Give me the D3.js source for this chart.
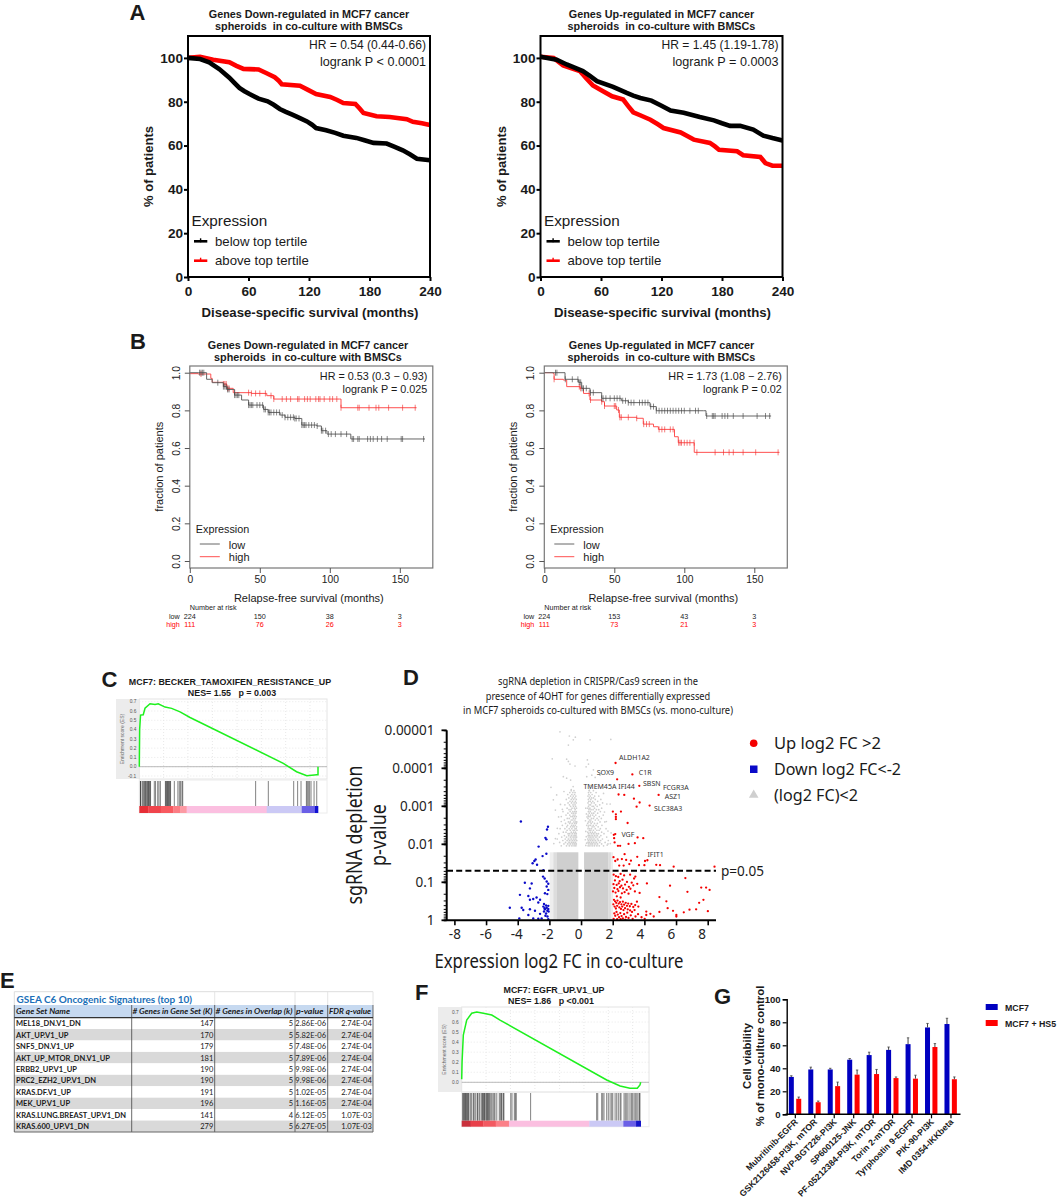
<!DOCTYPE html>
<html><head><meta charset="utf-8">
<script src="https://cdnjs.cloudflare.com/ajax/libs/d3/7.8.5/d3.min.js"></script>
<style>html,body{margin:0;padding:0;background:#fff}svg{display:block}text{font-family:"Liberation Sans",Arial,sans-serif;fill:#1a1a1a;white-space:pre}</style>
</head><body><svg id="c" width="1060" height="1200"></svg>
<script>
// ---------- Panel A : Kaplan-Meier (months, % of patients)
const aLeftLow=[[0,100],[12,99.5],[21,98],[31,94.9],[41,91],[46,88.6],[51,86.3],[56,84.8],[61,83.5],[70,81.4],[79,80.2],[85,78.6],[91,76.7],[97,75.4],[104,74],[111,72.5],[118,71],[123,69.5],[127,68],[137,67],[146,65.8],[154,64.5],[167,63.5],[175,62.4],[184,61.2],[197,60.9],[205,59.4],[213,57.8],[220,56],[227,54],[240,53.3]];
const aLeftHigh=[[0,100],[12,100.5],[25,99.2],[41,98],[48,96.4],[55,95],[70,94.7],[78,93],[86,91.2],[90,89.6],[93,88],[111,87.3],[119,85.4],[127,83.5],[141,82.2],[148,80.8],[154,79.4],[166,79],[170,77],[174,74.9],[187,73.4],[200,73],[217,72],[223,70.8],[232,70.2],[240,69.4]];
const aRightLow=[[0,100.5],[16,99.2],[26,97],[42,94],[49,91.8],[56,89.4],[72,86.8],[85.5,84],[92,82.8],[99,81.7],[110,80.5],[120,78.2],[129,76],[142,75],[158,73],[172,71.5],[180,70.2],[188,69],[198,69],[211,67.3],[221,64.5],[230,63.4],[240,62.3]];
const aRightHigh=[[0,100.5],[13,100],[22.5,96.6],[39,94],[46,90.4],[52,87.4],[62,84.8],[71,82.5],[82,81],[87,78],[92,75.2],[100,73.6],[109,71.8],[116,69.8],[122,68],[139,66],[146,64.2],[152,62.7],[168,61.2],[173,59.6],[177,58.1],[195,57.4],[201,55.6],[218,54.8],[223,52],[230,50.8],[240,50.8]];
const aTicksX=[0,60,120,180,240], aTicksY=[0,20,40,60,80,100];
// ---------- Panel B : Kaplan-Meier (months, fraction)
const bLeftLow=[[0,1],[6,1],[12,.965],[16,.947],[24,.926],[26.4,.911],[32,.881],[37,.855],[42,.828],[52.6,.805],[56,.789],[64.5,.775],[68,.763],[75,.757],[80,.722],[90.7,.717],[94,.692],[98,.674],[113,.674],[115,.648],[168,.648]];
const bLeftHigh=[[0,.995],[6,.993],[15,.97],[16,.949],[24,.94],[26.4,.917],[31,.894],[44,.89],[55,.878],[60,.86],[107,.86],[108,.814],[162,.814]];
const bRightLow=[[0,1],[7.6,1],[14.8,.965],[24.3,.949],[26.7,.917],[32.6,.894],[41,.864],[55,.851],[60,.841],[75.5,.82],[80,.798],[113.6,.798],[115.5,.77],[162,.77]];
const bRightHigh=[[0,1],[6.4,.996],[7,.965],[13.6,.961],[16,.926],[25.5,.917],[28,.89],[32.6,.855],[41,.846],[43,.823],[51.7,.802],[53.6,.763],[66,.758],[70.7,.727],[78,.713],[81.5,.699],[91,.699],[93,.66],[95.7,.628],[107,.628],[107.1,.577],[168,.577]];
const censorBLL=[7,8,9,10,20,24,25,26,27,28,32,33,34,35,42,43,44,45,48,50,52,53,54,56,57,58,60,62,64,66,68,70,72,74,75,76,78,80,81,82,83,85,87,89,91,94,95,97,99,101,104,108,112,116,117,120,121,127,129,131,134,137,141,151,152,167];
const censorBLH=[8,24,25,26,27,28,32,42,44,47,50,54,58,60,66,69,72,77,78,82,84,86,90,92,93,96,100,102,105,108,120,121,128,133,135,142,152,161];
const censorBRL=[8,9,15,20,24,25,26,27,28,30,33,35,41,42,44,47,50,52,54,56,58,60,62,64,68,70,72,74,76,78,80,82,84,86,88,90,92,94,96,98,100,104,108,110,116,120,121,122,127,129,131,135,142,152,158,161];
const censorBRH=[7,25,26,32,33,41,43,50,51,53,54,55,60,66,71,73,75,82,84,86,90,92,96,97,98,100,102,104,107,109,122,128,132,135,142,151,167];
const bTicksX=[0,50,100,150], bTicksY=[0,.2,.4,.6,.8,1];
const riskLeftLow=[224,150,38,3], riskLeftHigh=[111,76,26,3], riskRightLow=[224,153,43,3], riskRightHigh=[111,73,21,3];
// ---------- Panels C and F : enrichment plots (rank %, ES)
const esC=[[0,0],[.2,.4],[.7,.556],[2.2,.56],[3.2,.63],[6,.678],[8.8,.67],[10.6,.678],[14.4,.642],[18.1,.628],[22.8,.59],[28.4,.53],[80.6,.036],[88,-.054],[93.7,-.097],[99.3,-.086],[100,-.086],[100,0]];
const hitsC=[.4,.7,.9,1.9,2.2,2.8,3.2,3.5,4.1,4.5,4.9,5.2,5.6,6,6.3,8.4,9.1,10.3,11,11.8,14.6,14.9,15.3,15.7,16,16.4,16.8,17.2,17.5,19.6,21.6,22.4,23.1,23.9,24.3,65.1,72.2,86.4,88.6,90.5,93.5,94,94.6,95.3,96.1,97.8,99.3];
const esF=[[0,.03],[.2,.2],[.9,.47],[2.8,.62],[5.6,.688],[8.4,.7],[12.1,.687],[16.8,.67],[21.4,.62],[81,.023],[88.5,-.037],[94,-.06],[98.1,-.06],[99.6,-.027],[100,0]];
const hitsF=[.4,.7,1.1,1.5,1.9,2.2,2.6,3,3.4,3.7,4.1,5,5.6,6.5,6.9,7.6,8.6,8.9,9.7,10.2,11.2,11.5,11.9,12.3,12.7,13,13.6,14,14.3,14.7,15.1,15.5,16.2,16.8,17.5,18.1,18.6,19.6,21,21.6,22.2,22.5,23.3,23.6,27.4,28.1,29.4,30,30.5,38.5,75.4,76,78.2,78.8,79.5,81,81.9,82.9,83.8,84.4,85.7,86.6,87.5,88.5,89,90.7,91.4,92.2,92.9,94,94.8,95.5,96.3,97,97.8,98.5,99.3,99.6];
const rankBarC=[[0,5,"#e62e36"],[5,12,"#f0444c"],[12,19,"#f85a60"],[19,23,"#fb7d84"],[23,26.5,"#fc9aa3"],[26.5,71.3,"#fbbfe0"],[71.3,90.9,"#cbc9f5"],[90.9,98.3,"#6a5fe6"],[98.3,100,"#1010d0"]];
const rankBarF=[[0,5,"#c9303c"],[5,12,"#e8404a"],[12,19,"#f25a62"],[19,26.4,"#fb8088"],[26.4,71.3,"#fbbfe0"],[71.3,90.3,"#cbc9f5"],[90.3,97.4,"#6a5fe6"],[97.4,100,"#1414c8"]];
// ---------- Panel D : volcano ([log2 FC, -log10 p])
const volcanoRed=[[2.18,4.14],[3.24,3.84],[2.28,3.71],[3.68,3.54],[2.37,3.31],[2.73,3.3],[3.34,3.2],[3.7,3.1],[4.9,3.3],[3.51,2.99],[4.33,3.02],[2.01,2.86],[2.52,2.86],[2.2,2.79],[2.2,2.72],[2.2,2.66],[2.94,2.56],[2.16,2.27],[2.07,2.25],[2.09,2.16],[3.57,2.18],[3.93,2.16],[3,2.01],[3.4,2.03],[2.12,2.05],[2.33,1.96],[2.47,1.96],[2.75,1.74],[3.55,1.67],[2.05,1.66],[2.31,1.6],[2.58,1.61],[2.85,1.59],[2.16,1.56],[4.04,1.56],[4.19,1.58],[3.15,1.57],[2.41,1.44],[2.69,1.44],[3.05,1.48],[3.66,1.45],[4,1.45],[4.75,1.46],[4.99,1.45],[5.85,1.41],[8.43,1.41],
[6.59,1.11],[5.62,.91],[4.16,.97],[6.72,.75],[4.95,.61],[7.9,.86],[7.59,.86],[8.12,.8],[7.46,.46],[7.73,.54],[8.01,.24],[7.27,.29],[6.85,.28],[6.49,.21],[6.02,.1],[6.02,.14],[5.47,.32],[5.39,.5],[4.95,.22],[4.38,.17],[4.12,.23],[4.12,.14],[4.59,.1],[5.81,.25],[3.53,.49],[3.43,1.15],
[2.06,1.2],[2.2,1.16],[2.35,1.14],[2.5,1.22],[2.72,1.18],[3.1,1.2],[3.35,1.1],[2.14,1.05],[2.44,1.03],[2.62,1.07],[2.9,1.01],[3.2,.99],[2.05,.95],[2.25,.93],[2.38,.97],[2.55,.91],[2.78,.94],[3.02,.88],[3.3,.92],[3.55,.96],[2.1,.85],[2.3,.82],[2.46,.87],[2.65,.84],[2.88,.8],[3.12,.83],[2.02,.76],[2.18,.73],[2.36,.77],[2.58,.71],[2.75,.74],[3,.7],[3.4,.76],[3.7,.72],[2.26,.63],[2.5,.6],[2.08,.54],[2.15,.5],[2.22,.46],[2.3,.52],[2.38,.44],[2.46,.48],[2.55,.42],[2.64,.49],[2.72,.41],[2.82,.46],[2.9,.38],[2.98,.44],[3.08,.37],[3.18,.43],[3.3,.35],[3.42,.4],[3.62,.36],[2.04,.42],[2.12,.36],[2.2,.31],[2.28,.38],[2.42,.34],[2.52,.3],[2.6,.36],[2.68,.27],[2.78,.32],[2.95,.29],[3.1,.26],[3.22,.22],[3.38,.27],[2.1,.18],[2.16,.12],[2.24,.22],[2.32,.15],[2.4,.08],[2.48,.19],[2.56,.11],[2.64,.05],[2.72,.16],[2.84,.09],[2.92,.2],[3,.06],[3.14,.13],[3.26,.04],[3.44,.1],[3.6,.16],[3.82,.08],[4.02,.04],[2.06,.04],[2.28,.03],[2.5,.03],[2.8,.02]];
const volcanoBlue=[[-3.8,2.6],[-2.09,2.46],[-2.15,2.39],[-2.25,2.17],[-2.19,2.13],[-2.68,1.94],[-2.19,1.75],[-2.43,1.69],[-2.87,1.6],[-2.95,1.56],[-3.06,1.5],[-2.78,1.46],[-2.38,1.32],[-2.4,1.15],[-2.3,1.1],[-2.17,1.02],[-2.07,.96],[-2.17,.89],[-2.07,.8],[-2.13,.69],[-2.28,.71],[-3.55,.99],[-3.12,.97],[-3.23,.84],[-3.86,.67],[-3.33,.64],[-4.5,.33],[-3.75,.33],[-3.9,.05],[-3.33,.14],[-3.23,.54],[-3.02,.56],[-2.81,.6],[-2.59,.54],[-2.7,.47],[-2.34,.43],[-2.21,.39],[-2.07,.38],[-2.38,.36],[-2.17,.33],[-2.07,.3],[-2.28,.29],[-2.13,.25],[-2.05,.23],[-2.34,.23],[-2.21,.18],[-2.91,.25],[-3.23,.29],[-2.59,.17],[-3.02,.05],[-2.7,.04],[-2.49,.05],[-2.07,.03],[-3.65,.27],[-2.25,.12],[-2.12,.1],[-2.3,.32]];
const volcanoGreySparse=[[-1.33,4.96],[-.74,4.85],[-.36,4.82],[-.49,4.75],[-.8,4.61],[.57,4.75],[1.88,4.76],[-1.82,4.25],[-.91,4.24],[-.8,4.18],[-.7,4.11],[-.38,4.06],[.4,4.22],[.47,4.11],[.32,4.04],[.78,3.96],[-1.12,3.78],[-.91,3.74],[-.66,3.69],[-1.9,3.5],[-1.54,3.3],[-1.08,3.39],[.36,3.78],[.68,3.82],[.89,3.76],[1.2,3.82],[1.42,3.34],[1.63,3.06],[1.84,3.06],[-1.75,3.17],[-1.3,3.05],[-1.18,2.92],[-1.62,2.9],[-1.42,2.72],[-1.25,2.6],[-1.5,2.42],[-1.62,2.15],[-1.72,2.02],[1.48,2.85],[1.6,2.6],[1.7,2.35],[1.72,2.1],[1.85,2.02],[1.65,1.98],[1.9,2.3],[.52,3.42],[.62,3.55],[-.5,3.52],[-.62,3.44],[.3,2.95],[.34,2.8],[.28,2.62],[.36,2.5],[.3,2.34],[.33,2.2],[.27,2.12],[.35,2.03],[.3,1.97],[.38,2.72]];
const greyRows=[[3.41,[-.62,-.45,.52,.78]],[3.36,[-.71,-.52,-.38,.47,.61,.95]],[3.31,[-.84,-.58,-.41,.5,.7]],[3.27,[-.66,-.49,-.33,.44,.58,.86,1.12]],[3.22,[-.77,-.55,-.39,.53,.67,.79]],[3.18,[-.93,-.62,-.47,-.3,.46,.62,.9,1.25]],[3.13,[-.7,-.54,-.36,.49,.58,.74,1.05]],[3.09,[-.82,-.6,-.44,-.31,.44,.66,.83,1.36]],[3.04,[-1.02,-.73,-.51,-.38,.51,.6,.92,1.18]],[3,[-.66,-.48,-.34,.47,.7,.79,1.02]],[2.95,[-.88,-.57,-.42,-.29,.43,.56,.85,1.3]],[2.91,[-.76,-.63,-.37,.5,.63,.76,.97,1.12]],[2.86,[-1.14,-.69,-.52,-.4,-.3,.46,.58,.88,1.22]],[2.82,[-.83,-.58,-.46,-.33,.52,.68,.8,1.05]],[2.77,[-.95,-.71,-.5,-.38,.45,.6,.74,.93,1.4]],[2.73,[-1.25,-.64,-.54,-.42,-.3,.49,.57,.83,1.15]],[2.68,[-.87,-.75,-.48,-.35,.44,.66,.78,1.01,1.28]],[2.64,[-1.05,-.62,-.52,-.39,.53,.62,.9,1.1]],[2.59,[-.8,-.68,-.45,-.33,-.27,.47,.58,.72,1.2,1.5]],[2.55,[-.98,-.72,-.56,-.41,-.3,.42,.64,.85,1.03]],[2.5,[-1.18,-.85,-.6,-.48,-.36,.5,.6,.77,.95,1.32]],[2.46,[-.9,-.66,-.52,-.43,-.28,.46,.7,.82,1.08]],[2.41,[-1.32,-1.02,-.75,-.58,-.38,-.31,.44,.55,.66,.9,1.22,1.58]],[2.37,[-.88,-.68,-.5,-.41,-.26,.52,.62,.78,1,1.14]],[2.32,[-1.12,-.95,-.62,-.47,-.35,.43,.58,.72,.88,1.3]],[2.28,[-1.4,-.82,-.72,-.55,-.4,-.3,.48,.66,.8,.98,1.1,1.45]],[2.23,[-1.05,-.78,-.6,-.44,-.33,.45,.55,.7,.86,1.02,1.25]],[2.19,[-1.22,-.92,-.66,-.5,-.38,-.28,.5,.62,.76,.94,1.16,1.62]],[2.14,[-1.5,-1,-.8,-.62,-.46,-.34,.42,.56,.68,.82,1.05,1.35]],[2.1,[-1.15,-.88,-.72,-.55,-.41,-.27,.47,.6,.74,.9,1.1,1.24]],[2.05,[-1.35,-.98,-.76,-.6,-.48,-.36,.44,.52,.66,.8,.96,1.18,1.52]],[2.01,[-1.08,-.85,-.68,-.52,-.4,-.3,.49,.62,.72,.88,1.04,1.3,1.7]],[1.96,[-1.25,-.92,-.74,-.58,-.44,-.33,.45,.56,.7,.84,1,1.15,1.42]]];
const greyBands=[[-1.55,-.17,0,1.79,1],[.19,1.72,0,1.79,1],[-1.75,-1.55,0,1.79,.7],[-1.98,-1.75,0,1.79,.35],[1.72,1.88,0,1.79,.7],[1.88,2.02,0,1.79,.35],[-.85,-.25,1.95,2.3,.22],[.4,1.1,1.95,2.3,.22]];
const geneLabels=[["ALDH1A2",3.37,4.29],["SOX9",1.54,3.9],["C1R",4.05,3.9],["TMEM45A",1.19,3.53],["IFI44",2.87,3.53],["SBSN",4.47,3.59],["FCGR3A",5.99,3.49],["ASZ1",5.8,3.26],["SLC38A3",5.5,2.95],["VGF",2.96,2.26],["IFIT1",4.71,1.72]];
const dTicksX=[-8,-6,-4,-2,0,2,4,6,8];
// ---------- Panel E : table
const tableHead=["Gene Set Name","# Genes in Gene Set (K)","# Genes in Overlap (k)","p-value","FDR q-value"];
const tableNames=["MEL18_DN.V1_DN","AKT_UP.V1_UP","SNF5_DN.V1_UP","AKT_UP_MTOR_DN.V1_UP","ERBB2_UP.V1_UP","PRC2_EZH2_UP.V1_DN","KRAS.DF.V1_UP","MEK_UP.V1_UP","KRAS.LUNG.BREAST_UP.V1_DN","KRAS.600_UP.V1_DN"];
const tableK=[147,170,179,181,190,190,191,196,141,279];
const tableOverlap=[5,5,5,5,5,5,5,5,4,5];
const tableP=["2.86E-06","5.82E-06","7.48E-06","7.89E-06","9.98E-06","9.98E-06","1.02E-05","1.16E-05","6.12E-05","6.27E-05"];
const tableQ=["2.74E-04","2.74E-04","2.74E-04","2.74E-04","2.74E-04","2.74E-04","2.74E-04","2.74E-04","1.07E-03","1.07E-03"];
// ---------- Panel G : bars
const drugs=["Mubritinib-EGFR","GSK2126458-PI3K, mTOR","NVP-BGT226-PI3K","SP600125-JNK","PF-05212384-PI3K, mTOR","Torin 2-mTOR","Tyrphostin 9-EGFR","PIK-90-PI3K","IMD 0354-IKKbeta"];
const viabMCF7=[32.5,39,39,47.5,51.5,56,61,75.5,78.5];
const errMCF7=[1,2,1,1,2.5,2.5,5.5,3.5,5];
const viabHS5=[13.5,10.5,24.5,34.5,35,31.5,31,58.5,30.5];
const errHS5=[1.5,1,3.5,4,4,1,3,3,2];

const svg=d3.select("#c");
const RED="#ff0000";
function txt(g,s,x,y,o={}){const t=g.append("text").attr("x",x).attr("y",y).text(s);
  t.attr("font-size",o.size||10).attr("font-weight",o.bold?"bold":"normal").attr("text-anchor",o.anchor||"start");
  if(o.fill)t.style("fill",o.fill); if(o.family)t.style("font-family",o.family); if(o.italic)t.attr("font-style","italic");
  if(o.rot!==undefined)t.attr("transform",`rotate(${o.rot} ${x} ${y})`);
  if(o.len)t.attr("textLength",o.len).attr("lengthAdjust","spacingAndGlyphs");
  return t;}
// panel letters
[["A",129.5,20],["B",130,348.5],["C",101.5,687],["D",403,685],["E",0,988],["F",415,1000],["G",714,1004]].forEach(d=>txt(svg,d[0],d[1],d[2],{size:22,bold:true}));

// ===== Panel A
function panelA(left,title,low,high,hr,p){
  const right=left+242,top=36,bottom=277,g=svg.append("g");
  const x=d3.scaleLinear().domain([0,240]).range([left,right]);
  const y=d3.scaleLinear().domain([0,110]).range([bottom,top]);
  const line=d3.line().x(d=>x(d[0])).y(d=>y(d[1]));
  [[high,RED],[low,"#000"]].forEach(s=>g.append("path").attr("d",line(s[0])).attr("fill","none").attr("stroke",s[1]).attr("stroke-width",4.6));
  g.append("rect").attr("x",left).attr("y",top).attr("width",right-left).attr("height",bottom-top).attr("fill","none").attr("stroke","#000").attr("stroke-width",2);
  const ax=g.append("g").attr("transform",`translate(0,${bottom})`).call(d3.axisBottom(x).tickValues(aTicksX).tickSize(4).tickPadding(5));
  const ay=g.append("g").attr("transform",`translate(${left},0)`).call(d3.axisLeft(y).tickValues(aTicksY).tickSize(4).tickPadding(1));
  [ax,ay].forEach(a=>{a.select(".domain").remove();a.selectAll("line").attr("stroke","#000").attr("stroke-width",2);
    a.selectAll("text").style("font-size","13.6px").style("font-weight","bold").style("font-family","Liberation Sans");});
  const cx=(left+right)/2+1;
  txt(g,title[0],cx-1,18,{size:10.8,bold:true,anchor:"middle"});
  txt(g,title[1],cx-1,30,{size:10.8,bold:true,anchor:"middle"});
  txt(g,"Disease-specific survival (months)",cx,316.5,{size:13.2,bold:true,anchor:"middle"});
  txt(g,"% of patients",left-40,166.5,{size:13,bold:true,anchor:"middle",rot:-90}).attr("dy",5);
  txt(g,hr,right-4,49.3,{size:12.8,anchor:"end",len:117});
  txt(g,p,right-4,66,{size:12.8,anchor:"end",len:106});
  txt(g,"Expression",left+3.5,226,{size:15.3});
  [["below top tertile","#000",241.3,246],["above top tertile",RED,260.7,265.3]].forEach(r=>{
    g.append("line").attr("x1",left+6).attr("x2",left+19.3).attr("y1",r[2]).attr("y2",r[2]).attr("stroke",r[1]).attr("stroke-width",2.6);
    g.append("line").attr("x1",left+12.6).attr("x2",left+12.6).attr("y1",r[2]-3).attr("y2",r[2]+1).attr("stroke",r[1]).attr("stroke-width",1.4);
    txt(g,r[0],left+27,r[3],{size:13.2});
  });
}
const titleDown=["Genes Down-regulated in MCF7 cancer","spheroids  in co-culture with BMSCs"];
const titleUp=["Genes Up-regulated in MCF7 cancer","spheroids  in co-culture with BMSCs"];
panelA(188,titleDown,aLeftLow,aLeftHigh,"HR = 0.54 (0.44-0.66)","logrank P < 0.0001");
panelA(540.5,titleUp,aRightLow,aRightHigh,"HR = 1.45 (1.19-1.78)","logrank P = 0.0003");

// ===== Panel B
function panelB(left,titleX,title,low,high,cLow,cHigh,hr,p,rLow,rHigh){
  const W=243,right=left+W,top=366,bottom=568,g=svg.append("g");
  const x=d3.scaleLinear().domain([0,W/1.4]).range([left,right]);
  const y=d3.scaleLinear().domain([0,1]).range([561,372.7]);
  const line=d3.line().x(d=>x(d[0])).y(d=>y(d[1])).curve(d3.curveStepAfter);
  const at=(s,t)=>s[Math.max(0,d3.bisector(d=>d[0]).right(s,t)-1)][1];
  [[high,cHigh,"#ff5050","#f03030"],[low,cLow,"#666","#444"]].forEach(s=>{
    g.append("path").attr("d",line(s[0])).attr("fill","none").attr("stroke",s[2]).attr("stroke-width",1);
    g.selectAll(null).data(s[1]).join("line").attr("x1",d=>x(d)).attr("x2",d=>x(d))
      .attr("y1",d=>y(at(s[0],d))-3).attr("y2",d=>y(at(s[0],d))+3).attr("stroke",s[3]).attr("stroke-width",.8).attr("stroke-opacity",.8);
  });
  g.append("rect").attr("x",left).attr("y",top).attr("width",W).attr("height",bottom-top).attr("fill","none").attr("stroke","#777").attr("stroke-width",1.2);
  const ax=g.append("g").attr("transform",`translate(0,${bottom})`).call(d3.axisBottom(x).tickValues(bTicksX).tickSize(5).tickPadding(3));
  const ay=g.append("g").attr("transform",`translate(${left},0)`).call(d3.axisLeft(y).tickValues(bTicksY).tickSize(5).tickFormat(d3.format(".1f")));
  [ax,ay].forEach(a=>{a.select(".domain").remove();a.selectAll("line").attr("stroke","#555");
    a.selectAll("text").style("font-size","10.3px").style("font-family","Liberation Sans").style("fill","#222");});
  ay.selectAll("text").attr("x",null).attr("dy",null).attr("text-anchor","middle").attr("transform","translate(-10,0) rotate(-90)");
  txt(g,title[0],titleX,348.5,{size:10.8,bold:true,anchor:"middle"});
  txt(g,title[1],titleX,360.5,{size:10.8,bold:true,anchor:"middle"});
  txt(g,"Relapse-free survival (months)",left+119,601.7,{size:11,anchor:"middle"});
  txt(g,"fraction of patients",left-27,466.7,{size:11,anchor:"middle",rot:-90});
  txt(g,hr,right-5.5,380,{size:10.8,anchor:"end"});
  txt(g,p,right-5.5,392.7,{size:10.8,anchor:"end"});
  txt(g,"Expression",left+6,533.3,{size:10.8});
  [["low","#666",544,548.5,"#222"],["high","#ff5050",556.7,561,"#222"]].forEach(r=>{
    g.append("line").attr("x1",left+10).attr("x2",left+30).attr("y1",r[2]).attr("y2",r[2]).attr("stroke",r[1]).attr("stroke-width",1);
    txt(g,r[0],left+39,r[3],{size:11});
  });
  txt(g,"Number at risk",left,610,{size:7.2});
  [[rLow,"low","#222",618.7],[rHigh,"high",RED,627.3]].forEach(r=>{
    txt(g,r[1],left-10,r[3],{size:7.2,anchor:"end",fill:r[2]});
    r[0].forEach((v,i)=>txt(g,v,x(bTicksX[i]),r[3],{size:7.2,anchor:"middle",fill:r[2]}));
  });
}
panelB(189.8,308,titleDown,bLeftLow,bLeftHigh,censorBLL,censorBLH,"HR = 0.53 (0.3 \u2212 0.93)","logrank P = 0.025",riskLeftLow,riskLeftHigh);
panelB(544.3,661.5,titleUp,bRightLow,bRightHigh,censorBRL,censorBRH,"HR = 1.73 (1.08 \u2212 2.76)","logrank P = 0.02",riskRightLow,riskRightHigh);

// ===== Panels C, F : GSEA
function gsea(o){
  const g=svg.append("g");
  const x=d3.scaleLinear().domain([0,100]).range([o.pl,o.rankEnd]);
  const y=d3.scaleLinear().domain([0,.7]).range([o.y0,o.y7]);
  g.append("rect").attr("x",o.bg).attr("y",o.top).attr("width",o.pl-o.bg).attr("height",o.esBot-o.top).attr("fill","#ececec");
  g.append("rect").attr("x",o.pl).attr("y",o.top).attr("width",o.pr-o.pl).attr("height",o.esBot-o.top).attr("fill","#fff").attr("stroke","#e4e4e4");
  const gx=[13.6,27.2,40.9,54.7,68.3,81.9,95.5];
  g.selectAll(null).data(gx).join("line").attr("x1",d=>x(d)).attr("x2",d=>x(d)).attr("y1",o.top).attr("y2",o.esBot).attr("stroke","#e8e8e8").attr("stroke-dasharray","1 2");
  g.selectAll(null).data(o.ticks).join("line").attr("x1",o.pl).attr("x2",o.pr).attr("y1",d=>y(d)).attr("y2",d=>y(d)).attr("stroke","#e8e8e8").attr("stroke-dasharray","1 2");
  g.selectAll(null).data(o.ticks).join("text").attr("x",o.pl-3).attr("y",d=>y(d)+1.7).attr("text-anchor","end").attr("font-size",4.8).style("fill","#555").text(d=>d3.format(".1f")(d).replace("\u2212","-"));
  txt(g,"Enrichment score (ES)",o.bg+7.5,(o.top+o.esBot)/2,{size:5,anchor:"middle",rot:-90,fill:"#666"});
  g.append("line").attr("x1",o.pl).attr("x2",o.pr).attr("y1",y(0)).attr("y2",y(0)).attr("stroke","#aaa").attr("stroke-width",.8);
  g.append("path").attr("d",d3.line().x(d=>x(d[0])).y(d=>y(d[1]))(o.es)).attr("fill","none").attr("stroke","#1ef01e").attr("stroke-width",1.5);
  g.selectAll(null).data(o.hits).join("line").attr("x1",d=>x(d)).attr("x2",d=>x(d)).attr("y1",o.hTop).attr("y2",o.hBot).attr("stroke","#000").attr("stroke-width",.9).attr("stroke-opacity",.55);
  g.append("rect").attr("x",o.pl).attr("y",o.hTop-1).attr("width",o.pr-o.pl).attr("height",o.barBot-o.hTop+1).attr("fill","none").attr("stroke","#ececec");
  g.selectAll(null).data(o.bar).join("rect").attr("x",d=>x(d[0])).attr("width",d=>x(d[1])-x(d[0])+.3).attr("y",o.hBot).attr("height",o.barBot-o.hBot).attr("fill",d=>d[2]);
  o.title.forEach(t=>txt(g,t[0],t[1],t[2],{size:o.tsize,bold:true,anchor:"middle"}));
}
gsea({bg:116,pl:139.3,pr:327,rankEnd:318,top:699,esBot:779,y0:766.7,y7:701.7,hTop:781,hBot:806,barBot:813,es:esC,hits:hitsC,bar:rankBarC,ticks:[-.1,0,.1,.2,.3,.4,.5,.6,.7],tsize:8.9,
  title:[["MCF7: BECKER_TAMOXIFEN_RESISTANCE_UP",230,685],["NES= 1.55   p = 0.003",232,695.5]]});
gsea({bg:438,pl:461.7,pr:649,rankEnd:640.7,top:1007,esBot:1092,y0:1082.3,y7:1012,hTop:1093,hBot:1120.7,barBot:1126.7,es:esF,hits:hitsF,bar:rankBarF,ticks:[0,.1,.2,.3,.4,.5,.6,.7],tsize:8.9,
  title:[["MCF7: EGFR_UP.V1_UP",554,993.3],["NES= 1.86   p <0.001",551,1003.7]]});

// ===== Panel D
(function(){
  const g=svg.append("g"),NS="Noto Sans";
  const x=d3.scaleLinear().domain([-8,8]).range([454.4,707.7]);
  const y=d3.scaleLog().domain([1,1e-5]).range([920.3,730.3]);
  const P=v=>Math.pow(10,-v);
  g.selectAll(null).data(greyBands).join("rect").attr("x",d=>x(d[0])).attr("width",d=>x(d[1])-x(d[0]))
    .attr("y",d=>y(P(d[3]))).attr("height",d=>y(P(d[2]))-y(P(d[3]))).attr("fill","#cfcfcf").attr("fill-opacity",d=>d[4]);
  const dots=(arr,c,r)=>g.selectAll(null).data(arr).join("circle").attr("cx",d=>x(d[0])).attr("cy",d=>y(P(d[1]))).attr("r",r).attr("fill",c);
  dots(volcanoGreySparse.concat(greyRows.flatMap(r=>r[1].map(f=>[f,r[0]]))),"#cfcfcf",.85);
  dots(volcanoRed,"#f40000",1.15); dots(volcanoBlue,"#0a0ac8",1.2);
  const ax=g.append("g").attr("transform","translate(0,920.3)").call(d3.axisBottom(x).tickValues(dTicksX).tickSize(5).tickPadding(4).tickFormat(d=>String(d)));
  ax.select(".domain").attr("d","M446.7,0H716").attr("stroke","#000").attr("stroke-width",2);
  ax.selectAll("line").attr("stroke","#000").attr("stroke-width",1.6);
  ax.selectAll("text").style("font-size","13.5px").style("font-family",NS).style("fill","#222").attr("dx",d=>-(d+8)*.375);
  const ay=g.append("g").attr("transform","translate(446.7,0)").call(d3.axisLeft(y).tickSize(3).tickFormat(()=>""));
  ay.select(".domain").attr("stroke","#000").attr("stroke-width",2).attr("d","M0,730.3V921");
  ay.selectAll("line").attr("stroke","#000").attr("stroke-width",1);
  const majors=[1,.1,.01,.001,.0001,.00001],majorLab=["1","0.1","0.01","0.001","0.0001","0.00001"];
  g.selectAll(null).data(majors).join("line").attr("x1",441.5).attr("x2",446.7).attr("y1",d=>y(d)).attr("y2",d=>y(d)).attr("stroke","#000").attr("stroke-width",1.8);
  g.selectAll(null).data(majors).join("text").attr("x",434.5).attr("y",d=>y(d)+5).attr("text-anchor","end").attr("font-size",13.5).style("font-family",NS).style("fill","#222").text((d,i)=>majorLab[i]);
  g.append("line").attr("x1",447).attr("x2",716).attr("y1",y(.05)).attr("y2",y(.05)).attr("stroke","#000").attr("stroke-width",2).attr("stroke-dasharray","6 3.2");
  txt(g,"p=0.05",721,875.5,{size:14.5,family:NS,len:43});
  geneLabels.forEach(l=>g.append("text").attr("x",x(l[1])).attr("y",y(P(l[2]))+2.5).attr("text-anchor","middle").attr("font-size",7).style("font-family",NS).style("fill","#333").text(l[0]));
  [["sgRNA depletion in CRISPR/Cas9 screen in the",685,200],["presence of 4OHT for genes differentially expressed",699.7,224.5],["in MCF7 spheroids co-cultured with BMSCs (vs. mono-culture)",714,270]]
    .forEach(l=>txt(g,l[0],598,l[1],{size:11,family:NS,anchor:"middle",len:l[2]}));
  txt(g,"Expression log2 FC in co-culture",559,968,{size:20.5,family:NS,anchor:"middle",len:249});
  txt(g,"sgRNA depletion",362,835,{size:21,family:NS,anchor:"middle",rot:-90,len:139});
  txt(g,"p-value",386,835,{size:21,family:NS,anchor:"middle",rot:-90,len:62});
  g.append("circle").attr("cx",753.7).attr("cy",743.3).attr("r",3.8).attr("fill","#f40000");
  g.append("rect").attr("x",750).attr("y",765.5).attr("width",7.5).attr("height",7.5).attr("fill","#0a0ac8");
  g.append("path").attr("d",d3.symbol(d3.symbolTriangle,40)()).attr("transform","translate(753.7,795)").attr("fill","#cfcfcf");
  txt(g,"Up log2 FC >2",774,749,{size:16.5,family:NS,len:107});
  txt(g,"Down log2 FC<-2",774,775,{size:16.5,family:NS,len:127});
  txt(g,"(log2 FC)<2",774,801,{size:16.5,family:NS,len:84});
})();

// ===== Panel E
(function(){
  const g=svg.append("g"),F="Lato",S=7.5;
  const cols=[14.3,131.7,214.7,295,327.7,373];
  const rowTop=i=>1017.6+i*11.44, hTop=1005, tTop=991.7;
  g.append("rect").attr("x",cols[0]).attr("y",hTop).attr("width",cols[5]-cols[0]).attr("height",rowTop(0)-hTop).attr("fill","#c6d9f0");
  g.selectAll(null).data(tableNames).join("rect").attr("x",cols[0]).attr("width",cols[5]-cols[0]).attr("y",(d,i)=>rowTop(i)).attr("height",11.44).attr("fill",(d,i)=>i%2?"#d9d9d9":"#fff");
  g.selectAll(null).data(cols).join("line").attr("x1",d=>d).attr("x2",d=>d).attr("y1",hTop).attr("y2",rowTop(10)).attr("stroke","#444").attr("stroke-width",.8);
  g.selectAll(null).data(cols.slice(2)).join("line").attr("x1",d=>d).attr("x2",d=>d).attr("y1",tTop).attr("y2",hTop).attr("stroke","#ddd").attr("stroke-width",.8);
  g.append("line").attr("x1",cols[0]).attr("x2",cols[5]).attr("y1",tTop).attr("y2",tTop).attr("stroke","#ddd");
  g.append("line").attr("x1",cols[0]).attr("x2",cols[0]).attr("y1",tTop).attr("y2",hTop).attr("stroke","#ddd");
  g.append("line").attr("x1",cols[0]).attr("x2",cols[5]).attr("y1",rowTop(0)).attr("y2",rowTop(0)).attr("stroke","#333").attr("stroke-width",1.2);
  g.append("line").attr("x1",cols[0]).attr("x2",cols[5]).attr("y1",rowTop(10)).attr("y2",rowTop(10)).attr("stroke","#666").attr("stroke-width",1);
  txt(g,"GSEA C6 Oncogenic Signatures (top 10)",16.5,1003,{size:9.6,bold:true,family:F,fill:"#1b6fb8",len:175.5});
  const hx=[16,132.5,215.5,296,329], hl=[0,80,77,27.5,42];
  tableHead.forEach((h,i)=>txt(g,h,hx[i],1014.2,{size:7.8,bold:true,italic:true,family:F,len:i?hl[i]:54}));
  tableNames.forEach((n,i)=>{
    const b=rowTop(i)+8.6;
    txt(g,n,16,b,{size:S,bold:true,family:F});
    txt(g,tableK[i],213.3,b,{size:S,anchor:"end",family:F});
    txt(g,tableOverlap[i],293,b,{size:S,anchor:"end",family:F});
    txt(g,tableP[i],326,b,{size:S,anchor:"end",family:F});
    txt(g,tableQ[i],371.8,b,{size:S,anchor:"end",family:F});
  });
})();

// ===== Panel G
(function(){
  const g=svg.append("g");
  const x=d3.scaleBand().domain(drugs).range([785.6,960.7]);
  const sub=d3.scaleBand().domain(["MCF7","HS5"]).range([-7.7,7.1]);
  const y=d3.scaleLinear().domain([0,100]).range([1114.3,999.3]);
  const W=5;
  const series=[["MCF7",viabMCF7,errMCF7,"#0000c0"],["HS5",viabHS5,errHS5,"#ff0000"]];
  series.forEach(s=>{
    const cx=i=>x(drugs[i])+x.bandwidth()/2+sub(s[0])+sub.bandwidth()/2;
    g.selectAll(null).data(s[1]).join("rect").attr("x",(d,i)=>cx(i)-W/2).attr("width",W).attr("y",d=>y(d)).attr("height",d=>y(0)-y(d)).attr("fill",s[3]);
    g.selectAll(null).data(s[1]).join("line").attr("x1",(d,i)=>cx(i)).attr("x2",(d,i)=>cx(i)).attr("y1",d=>y(d)).attr("y2",(d,i)=>y(d+s[2][i])).attr("stroke","#444").attr("stroke-width",1);
    g.selectAll(null).data(s[1]).join("line").attr("x1",(d,i)=>cx(i)-1.2).attr("x2",(d,i)=>cx(i)+1.2).attr("y1",(d,i)=>y(d+s[2][i])).attr("y2",(d,i)=>y(d+s[2][i])).attr("stroke","#444").attr("stroke-width",.8);
  });
  const ay=g.append("g").attr("transform","translate(786.7,0)").call(d3.axisLeft(y).tickValues([0,20,40,60,80,100]).tickSize(4).tickPadding(2));
  ay.selectAll("text").style("font-size","9.6px").style("font-weight","bold").style("font-family","Liberation Sans");
  const ax=g.append("g").attr("transform","translate(0,1114.3)").call(d3.axisBottom(x).tickSize(4).tickFormat(""));
  [ax,ay].forEach(a=>{a.selectAll("line").attr("stroke","#000").attr("stroke-width",1.2);a.select(".domain").attr("stroke","#000").attr("stroke-width",1.4);});
  ax.select(".domain").attr("d","M785.6,0H960.5");
  drugs.forEach(d=>{const px=x(d)+x.bandwidth()/2+3;
    g.append("text").attr("transform",`translate(${px},1122.5) rotate(-45)`).attr("text-anchor","end").attr("font-size",8.7).attr("font-weight","bold").text(d);});
  txt(g,"Cell viability",750.5,1056,{size:11.3,bold:true,anchor:"middle",rot:-90});
  txt(g,"% of mono-culture control",763.5,1056,{size:11.3,bold:true,anchor:"middle",rot:-90});
  [["MCF7","#0000c0",1004,1011],["MCF7 + HS5","#ff0000",1020,1027]].forEach(r=>{
    g.append("rect").attr("x",985.7).attr("y",r[2]).attr("width",12).attr("height",6).attr("fill",r[1]);
    txt(g,r[0],1005,r[3],{size:8.8,bold:true});
  });
})();
</script></body></html>
